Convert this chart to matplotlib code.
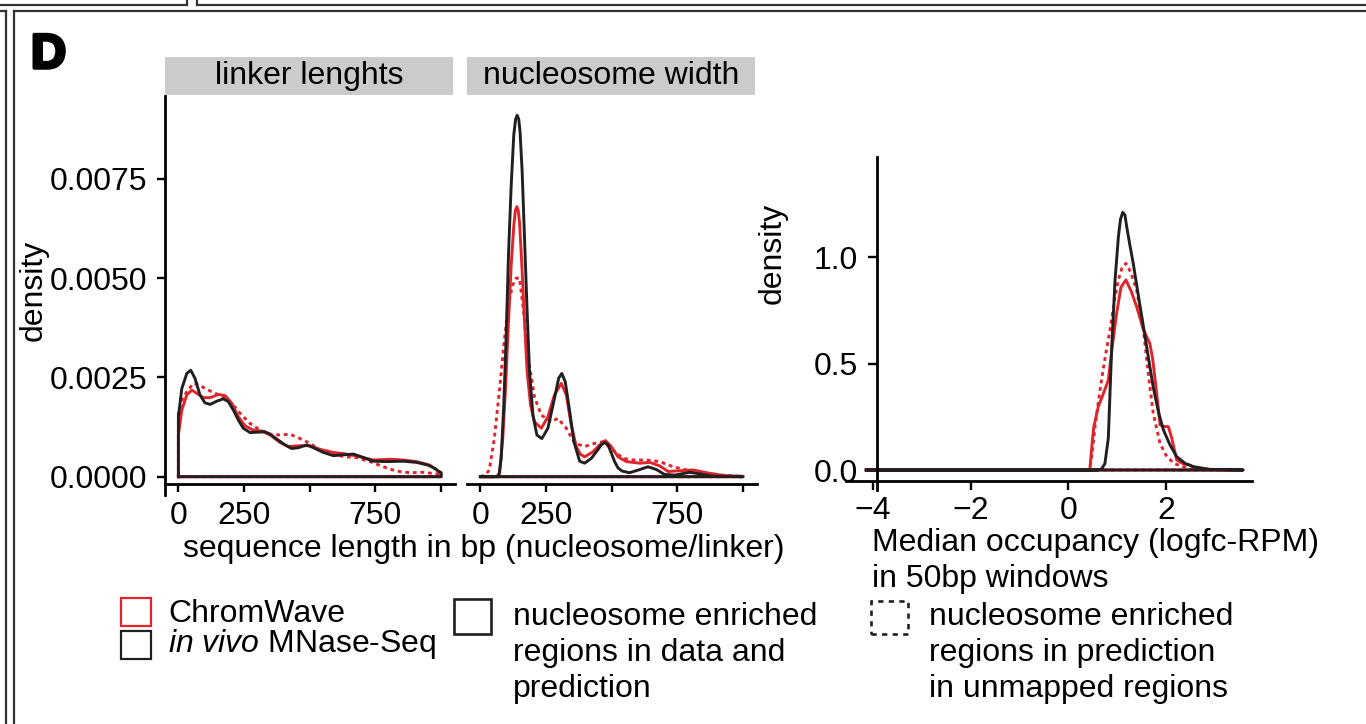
import matplotlib
matplotlib.use("Agg")
import matplotlib.pyplot as plt
from matplotlib.patches import Rectangle
from matplotlib.lines import Line2D
import matplotlib.patheffects as pe

plt.rcParams['font.family'] = ['Liberation Sans', 'DejaVu Sans']
plt.rcParams['mathtext.fontset'] = 'custom'
plt.rcParams['mathtext.it'] = 'Liberation Sans:italic'
plt.rcParams['mathtext.rm'] = 'Liberation Sans'

RED = '#e0242b'
BLACK = '#231f20'
GREY = '#cbcbcb'
FS = 23

# ---- linker lengths (bp) ----
link_vivo_x = [0, 13, 32, 47, 63, 82, 101, 121, 146, 171, 190, 209, 228, 247, 273, 298, 330, 349, 374,
               406, 431, 457, 488, 514, 552, 590, 628, 666, 697, 742, 793, 856, 907, 951, 976, 993, 1000]
link_vivo_y = [0.00151, 0.00222, 0.0026, 0.00268, 0.00248, 0.00206, 0.00186, 0.00182, 0.0019, 0.00196,
               0.00189, 0.00168, 0.00143, 0.00122, 0.00111, 0.00112, 0.00113, 0.00107, 0.00095,
               0.0008, 0.00071, 0.00073, 0.0008, 0.00073, 0.00061, 0.00053, 0.00055, 0.00057, 0.0005,
               0.00039, 0.00038, 0.00039, 0.00036, 0.00029, 0.00021, 0.00012, 0.0001]
link_cw_x = [0, 13, 32, 51, 70, 95, 121, 152, 178, 203, 228, 254, 285, 317, 349, 387, 418, 463, 501,
             539, 590, 641, 691, 742, 805, 856, 907, 957, 993, 1000]
link_cw_y = [0.00105, 0.00168, 0.00206, 0.00218, 0.0021, 0.00199, 0.00199, 0.00207, 0.00204, 0.00185,
             0.00151, 0.00128, 0.00117, 0.00115, 0.00105, 0.00086, 0.00076, 0.00078, 0.00078,
             0.00069, 0.00061, 0.00057, 0.0005, 0.00042, 0.00044, 0.00042, 0.00038, 0.00029, 0.00013, 0.0001]
link_unm_x = [0, 15, 32, 57, 76, 102, 133, 171, 209, 241, 273, 311, 349, 387, 425, 463, 501, 539,
              590, 641, 678, 729, 780, 830, 881, 932, 970, 1000]
link_unm_y = [0.0016, 0.00195, 0.00214, 0.00235, 0.00232, 0.00222, 0.00212, 0.00201, 0.0018, 0.00155,
              0.00134, 0.00117, 0.00107, 0.00105, 0.00107, 0.00096, 0.00084, 0.00067,
              0.00055, 0.0005, 0.00048, 0.00038, 0.00025, 0.00014, 0.0001, 0.00011, 0.00008, 0.00006]

# ---- nucleosome width (bp) ----
nuc_vivo_x = [0, 47, 66, 72, 79, 89, 98, 107, 117, 127, 134, 140, 146, 151, 159, 168, 177, 187, 200,
              215, 234, 257, 282, 298, 310, 323, 340, 356, 378, 397, 422, 445, 460, 473, 486, 498,
              511, 524, 540, 568, 607, 638, 670, 700, 740, 797, 836, 887, 1000]
nuc_vivo_y = [0, 0, 0, 0.0001, 0.00046, 0.0018, 0.0035, 0.0056, 0.0073, 0.0086, 0.009, 0.0091, 0.009,
              0.00868, 0.00768, 0.006, 0.00432, 0.00264, 0.00155, 0.00105, 0.00096, 0.00122, 0.00197,
              0.00248, 0.0026, 0.00239, 0.00164, 0.00088, 0.00039, 0.00034, 0.00046, 0.00066, 0.0008,
              0.00086, 0.0008, 0.0006, 0.00038, 0.00022, 0.00014, 0.0001, 0.00018, 0.00025, 0.00018,
              0.00006, 0.00004, 0.00011, 0.00007, 0.00001, 0]
nuc_cw_x = [0, 53, 66, 73, 85, 95.5, 107, 117, 127, 133, 139, 144, 149, 158, 168, 178, 191, 206, 232,
            257, 282, 308, 327, 346, 365, 380, 397, 429, 454, 476, 498, 524, 556, 607, 645, 683, 715,
            759, 810, 861, 925, 1000]
nuc_cw_y = [0, 0, 0.00002, 0.00008, 0.00096, 0.0022, 0.0039, 0.0053, 0.0063, 0.0067, 0.0068, 0.0067,
            0.0064, 0.0053, 0.0039, 0.00264, 0.0018, 0.00138, 0.00122, 0.00151, 0.00206, 0.00235,
            0.00206, 0.0013, 0.00076, 0.00057, 0.0005, 0.00063, 0.0008, 0.00091, 0.00076, 0.0005,
            0.00038, 0.00034, 0.00036, 0.00027, 0.00013, 0.00015, 0.00017, 0.0001, 0.00003, 0.00001]
nuc_unm_x = [0, 20, 34, 53, 73, 89, 104, 121, 136, 149, 162, 174, 187, 206, 232, 270, 295, 327, 359,
             397, 435, 467, 505, 543, 581, 632, 683, 734, 797, 861, 937, 1000]
nuc_unm_y = [0, 0.00005, 0.00017, 0.00096, 0.0022, 0.0033, 0.0042, 0.0048, 0.005, 0.005, 0.0043,
             0.0035, 0.0028, 0.002, 0.00155, 0.00138, 0.00147, 0.00122, 0.00084, 0.00076, 0.00084,
             0.00088, 0.00067, 0.00046, 0.00042, 0.00042, 0.00038, 0.00025, 0.00015, 0.00008, 0.00003, 0]

# ---- median occupancy (logfc-RPM) ----
occ_vivo_x = [-4.14, 0.6, 0.68, 0.75, 0.82, 0.89, 0.958, 1.026, 1.07, 1.115, 1.16, 1.2, 1.26, 1.33,
              1.45, 1.54, 1.64, 1.74, 1.85, 1.95, 2.08, 2.22, 2.4, 2.56, 2.9, 3.58]
occ_vivo_y = [0, 0, 0.005, 0.03, 0.15, 0.58, 0.894, 1.097, 1.18, 1.212, 1.2, 1.14, 1.06, 0.972,
              0.80, 0.674, 0.53, 0.39, 0.27, 0.188, 0.12, 0.063, 0.03, 0.016, 0.003, 0]
occ_cw_x = [-4.14, 0.44, 0.47, 0.52, 0.615, 0.72, 0.82, 0.9, 0.99, 1.08, 1.18, 1.29, 1.40, 1.54, 1.67,
            1.73, 1.78, 1.84, 1.88, 1.95, 2.05, 2.12, 2.22, 2.35, 2.49, 2.6, 2.8, 3.58]
occ_cw_y = [0, 0, 0.08, 0.2, 0.298, 0.36, 0.423, 0.58, 0.737, 0.86, 0.894, 0.84, 0.768, 0.659, 0.596,
            0.52, 0.423, 0.30, 0.212, 0.205, 0.204, 0.15, 0.047, 0.03, 0.024, 0.008, 0.002, 0]
occ_unm_x = [-4.14, 0.44, 0.5, 0.547, 0.61, 0.68, 0.77, 0.855, 0.94, 1.025, 1.1, 1.18, 1.28, 1.40,
             1.54, 1.64, 1.74, 1.88, 2.0, 2.16, 2.3, 2.5, 3.58]
occ_unm_y = [0, 0, 0.1, 0.204, 0.31, 0.423, 0.55, 0.659, 0.79, 0.894, 0.95, 0.972, 0.93, 0.847,
             0.659, 0.45, 0.267, 0.125, 0.07, 0.031, 0.02, 0.005, 0]

bp_ticks = [0, 250, 500, 750, 1000]
bp_labels = ['0', '250', '', '750', '']
occ_ticks = [-4, -2, 0, 2]
link_yticks = [0.0, 0.0025, 0.0050, 0.0075]
link_ylabels = ['0.0000', '0.0025', '0.0050', '0.0075']
occ_yticks = [0.0, 0.5, 1.0]
occ_ylabels = ['0.0', '0.5', '1.0']

W, H = 1366, 724
fig = plt.figure(figsize=(W / 100, H / 100), dpi=100)


def rect(x0, y0, x1, y1):
    # pixel box (top-left origin) -> figure fraction
    return [x0 / W, 1 - y1 / H, (x1 - x0) / W, (y1 - y0) / H]


def density(ax, x, y, **kw):
    # closed outline like geom_density
    ax.plot([x[0]] + x + [x[-1], x[0]], [0] + y + [0, 0],
            solid_joinstyle='round', dash_joinstyle='round', **kw)


def style(ax):
    for s in ['top', 'right']:
        ax.spines[s].set_visible(False)
    for s in ['left', 'bottom']:
        ax.spines[s].set_linewidth(2.0)
        ax.spines[s].set_color('black')
    ax.tick_params(width=1.7, length=5.5, labelsize=FS, pad=7, color='black')
    ax.set_facecolor('none')


lw = 2.1
dash = (0, (1.3, 1.3))

ax1 = fig.add_axes(rect(165, 96, 455, 484))
ax2 = fig.add_axes(rect(467, 96, 757, 484), sharey=ax1)
for ax, xs in [(ax1, (link_unm_x, link_unm_y, link_cw_x, link_cw_y, link_vivo_x, link_vivo_y)),
               (ax2, (nuc_unm_x, nuc_unm_y, nuc_cw_x, nuc_cw_y, nuc_vivo_x, nuc_vivo_y))]:
    density(ax, xs[0], xs[1], color=RED, lw=lw, ls=dash)
    density(ax, xs[2], xs[3], color=RED, lw=lw)
    density(ax, xs[4], xs[5], color=BLACK, lw=lw)
    style(ax)
    ax.set_xlim(-51, 1053)
    ax.set_xticks(bp_ticks)
    ax.set_xticklabels(bp_labels)

ax1.set_ylim(-0.000184, 0.009585)
ax1.set_yticks(link_yticks)
ax1.set_yticklabels(link_ylabels)
ax1.spines['left'].set_bounds(-0.00046, 0.009585)
ax2.spines['left'].set_visible(False)
ax2.tick_params(axis='y', left=False, labelleft=False)

ax3 = fig.add_axes(rect(846, 157, 1252, 481))
density(ax3, occ_unm_x, occ_unm_y, color=RED, lw=lw, ls=dash)
density(ax3, occ_cw_x, occ_cw_y, color=RED, lw=lw)
density(ax3, occ_vivo_x, occ_vivo_y, color=BLACK, lw=lw)
style(ax3)
ax3.set_xlim(-4.555, 3.764)
ax3.set_ylim(-0.0517, 1.4723)
ax3.set_xticks(occ_ticks)
ax3.set_yticks(occ_yticks)
ax3.set_yticklabels(occ_ylabels)
ax3.spines['left'].set_position(('data', -3.93))
ax3.spines['left'].set_bounds(-0.094, 1.4723)
ax3.tick_params(length=6.5)
ax3.tick_params(axis='x', pad=4)

# facet strips
for (x0, x1), label in [((165, 453), 'linker lenghts'), ((467, 755), 'nucleosome width')]:
    fig.add_artist(Rectangle((x0 / W, 1 - 95 / H), (x1 - x0) / W, 38 / H,
                             transform=fig.transFigure, facecolor=GREY, edgecolor='none'))
    fig.text((x0 + x1) / 2 / W, 1 - 76 / H, label, ha='center', va='center', fontsize=FS)

# axis titles
fig.text(34 / W, 1 - 290 / H, 'density', rotation=90, ha='center', va='center', fontsize=FS)
fig.text(773 / W, 1 - 253 / H, 'density', rotation=90, ha='center', va='center', fontsize=FS)
fig.text(484 / W, 1 - 557 / H, 'sequence length in bp (nucleosome/linker)',
         ha='center', va='baseline', fontsize=FS)
fig.text(872 / W, 1 - 551 / H, 'Median occupancy (logfc-RPM)', ha='left', va='baseline', fontsize=FS)
fig.text(872 / W, 1 - 587 / H, 'in 50bp windows', ha='left', va='baseline', fontsize=FS)

# panel letter
fig.text(31 / W, 1 - 68 / H, 'D', ha='left', va='baseline', fontsize=35, fontweight='bold',
         path_effects=[pe.withStroke(linewidth=2.5, foreground='black')])


# legend
def key(x0, y0, x1, y1, color, ls='-', lwk=1.6):
    fig.add_artist(Rectangle((x0 / W, 1 - y1 / H), (x1 - x0) / W, (y1 - y0) / H,
                             transform=fig.transFigure, facecolor='none', edgecolor=color,
                             lw=lwk, ls=ls))


key(121, 598, 151, 626, RED)
key(121, 631, 151, 659, BLACK)
fig.text(168 / W, 1 - 622 / H, 'ChromWave', ha='left', va='baseline', fontsize=FS)
fig.text(168 / W, 1 - 652 / H, r'$\mathit{in\ vivo}$ MNase-Seq', ha='left', va='baseline', fontsize=FS)

key(454, 599, 491, 634, BLACK, lwk=1.9)
for i, line in enumerate(['nucleosome enriched', 'regions in data and', 'prediction']):
    fig.text(513 / W, 1 - (625 + 36 * i) / H, line, ha='left', va='baseline', fontsize=FS)

key(871, 601, 908, 634, BLACK, ls=(0, (2, 2)), lwk=1.9)
for i, line in enumerate(['nucleosome enriched', 'regions in prediction', 'in unmapped regions']):
    fig.text(929 / W, 1 - (625 + 36 * i) / H, line, ha='left', va='baseline', fontsize=FS)

# frame lines from the surrounding figure layout
FRAME = '#333333'
segs = [((0, 4.5), (187, 4.5)), ((187, 0), (187, 4.5)),
        ((197, 0), (197, 4.5)), ((197, 4.5), (W, 4.5)),
        ((13.5, 10.5), (W, 10.5)), ((13.5, 10.5), (13.5, H)),
        ((0, 11), (6, 11)), ((6, 11), (6, H))]
for (xa, ya), (xb, yb) in segs:
    fig.add_artist(Line2D([xa / W, xb / W], [1 - ya / H, 1 - yb / H], transform=fig.transFigure,
                          color=FRAME, lw=1.6))

fig.savefig('out.png', dpi=100)
